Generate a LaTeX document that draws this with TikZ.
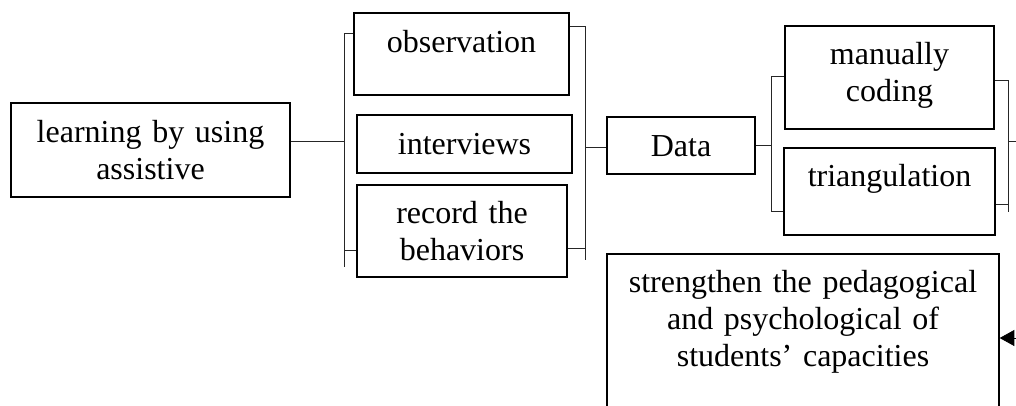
\documentclass[tikz,border=0pt]{standalone}
\usepackage{fontspec}
\setmainfont{Liberation Serif}
\usetikzlibrary{fit,arrows.meta}
\tikzset{
  bx/.style={draw, line width=1pt, inner sep=0pt},
  tx/.style={font=\fontsize{24}{27.75}\selectfont, align=center, inner sep=0pt, anchor=base, text width=300pt},
  ln/.style={line width=0.6pt, draw=black!85},
}
\begin{document}
\begin{tikzpicture}[x=0.75pt,y=-0.75pt]
\useasboundingbox (0,0) rectangle (1016,405);
\clip (0,0) rectangle (1016,405);
% boxes
\node[bx, fit={(11,103)(290,197)}] (learn) {};
\node[bx, fit={(354,13)(569,95)}] (obs) {};
\node[bx, fit={(357,115)(572,173)}] (int) {};
\node[bx, fit={(357,185)(567,277)}] (rec) {};
\node[bx, fit={(607,117)(755,174)}] (data) {};
\node[bx, fit={(785,26)(994,129)}] (man) {};
\node[bx, fit={(784,148)(995,235)}] (tri) {};
\node[bx, fit={(607,254)(999,440)}] (str) {};
% texts
\node[tx] (tlearn) at ([yshift=-30pt]learn.north) {learning by using\\assistive};
\node[tx] (tobs) at ([yshift=-30pt]obs.north) {observation};
\node[tx] (tint) at ([yshift=-30pt]int.north) {interviews};
\node[tx] (trec) at ([yshift=-29pt]rec.north) {record the\\behaviors};
\node[tx] (tdata) at ([yshift=-30pt]data.north) {Data};
\node[tx] (tman) at ([yshift=-29pt]man.north) {manually\\coding};
\node[tx] (ttri) at ([yshift=-29pt]tri.north) {triangulation};
\node[tx] (tstr) at ([yshift=-29pt]str.north) {strengthen the pedagogical\\and psychological of\\students' capacities};
% bracket coordinates
\coordinate (l1t) at (344,33);
\coordinate (l1m) at (344,141);
\coordinate (l1b) at (344,250);
\coordinate (l1e) at (344,267);
\coordinate (r1t) at (585,26);
\coordinate (r1m) at (585,147);
\coordinate (r1b) at (585,248);
\coordinate (r1e) at (585,260);
\coordinate (l2t) at (771,76);
\coordinate (l2m) at (771,145);
\coordinate (l2b) at (771,211);
\coordinate (r2t) at (1008,80);
\coordinate (r2m) at (1008,141);
\coordinate (r2b) at (1008,204);
\coordinate (r2e) at (1008,212);
\coordinate (edge) at (1016,141);
\coordinate (arr) at (1016,338);
% connectors
\draw[ln] (learn.east |- l1m) -- (l1m);
\draw[ln] (obs.west |- l1t) -- (l1t) -- (l1e);
\draw[ln] (rec.west |- l1b) -- (l1b);
\draw[ln] (obs.east |- r1t) -- (r1t) -- (r1e);
\draw[ln] (rec.east |- r1b) -- (r1b);
\draw[ln] (r1m) -- (data.west |- r1m);
\draw[ln] (data.east |- l2m) -- (l2m);
\draw[ln] (man.west |- l2t) -- (l2t) -- (l2b) -- (tri.west |- l2b);
\draw[ln] (man.east |- r2t) -- (r2t) -- (r2e);
\draw[ln] (tri.east |- r2b) -- (r2b);
\draw[ln] (r2m) -- (edge);
\draw[ln, draw=black, -{Triangle[length=11pt,width=12pt]}] (arr) -- (str.east |- arr);
\end{tikzpicture}
\end{document}
